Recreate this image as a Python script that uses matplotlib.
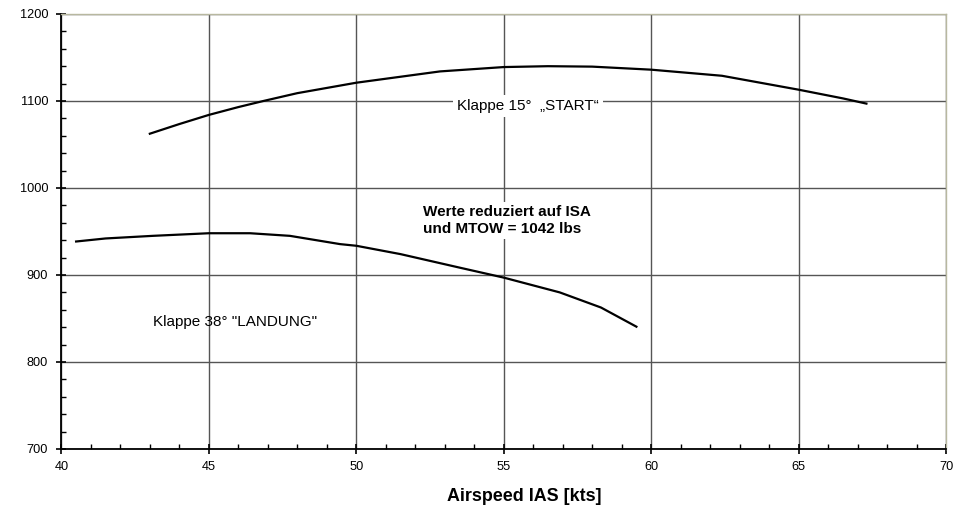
import matplotlib
matplotlib.use("Agg")
import matplotlib.pyplot as plt
from matplotlib.ticker import MultipleLocator

plt.rcParams['font.family'] = ['Liberation Sans', 'DejaVu Sans']

start_x = [43.0, 44.0, 45.0, 46.0, 46.85, 48.0, 50.0, 52.84, 55.0, 56.5, 58.0, 60.0, 62.4, 65.0, 66.5, 67.3]
start_y = [1062.4, 1073.5, 1084.0, 1093.0, 1100.0, 1109.0, 1121.0, 1134.0, 1139.0, 1140.0, 1139.5, 1136.0, 1129.0, 1113.0, 1103.0, 1097.0]

land_x = [40.5, 41.5, 43.1, 45.0, 46.4, 47.75, 49.45, 50.0, 51.5, 53.5, 55.0, 56.9, 58.3, 59.5]
land_y = [938.5, 942.0, 945.0, 948.0, 948.0, 945.0, 935.5, 933.6, 924.0, 908.5, 897.0, 880.0, 862.6, 840.6]

x_ticks = [40, 45, 50, 55, 60, 65, 70]
y_ticks = [700, 800, 900, 1000, 1100, 1200]

fig = plt.figure(figsize=(9.62, 5.07), dpi=100)
ax = fig.add_axes([0.0638, 0.1144, 0.9196, 0.858])

ax.set_xlim(40, 70)
ax.set_ylim(700, 1200)
ax.set_xticks(x_ticks)
ax.set_yticks(y_ticks)
ax.xaxis.set_minor_locator(MultipleLocator(1))
ax.yaxis.set_minor_locator(MultipleLocator(20))

ax.grid(True, which='major', color='#555555', linewidth=1.0, zorder=1)
ax.set_axisbelow(True)

for s in ['top', 'right']:
    ax.spines[s].set_color('#b8b8a0')
    ax.spines[s].set_linewidth(1.0)
for s in ['left', 'bottom']:
    ax.spines[s].set_color('black')
    ax.spines[s].set_linewidth(1.3)

ax.tick_params(which='major', direction='inout', length=7, width=1.2, labelsize=9.2, colors='black')
ax.tick_params(which='minor', direction='in', length=3.5, width=1.0)
ax.tick_params(axis='x', which='major', pad=5)
ax.tick_params(axis='y', which='major', pad=6)

ax.plot(start_x, start_y, color='black', linewidth=1.6, zorder=3)
ax.plot(land_x, land_y, color='black', linewidth=1.6, zorder=3)

ax.text(53.42, 1094.5, "Klappe 15°  \u201eSTART\u201c", fontsize=11, ha='left', va='center',
        bbox=dict(facecolor='white', edgecolor='none', pad=3.0), zorder=2)
ax.text(52.27, 981.0, "Werte reduziert auf ISA\nund MTOW = 1042 lbs", fontsize=11, fontweight='bold',
        ha='left', va='top', linespacing=1.3,
        bbox=dict(facecolor='white', edgecolor='none', pad=2.0), zorder=2)
ax.text(43.1, 846.0, "Klappe 38° \"LANDUNG\"", fontsize=11, ha='left', va='center', zorder=2)

ax.set_xlabel("Airspeed IAS [kts]", fontsize=12.9, fontweight='bold')
ax.xaxis.label.set_va('baseline')
ax.xaxis.set_label_coords(0.523, -0.1195)

fig.savefig("out.png", dpi=100)
